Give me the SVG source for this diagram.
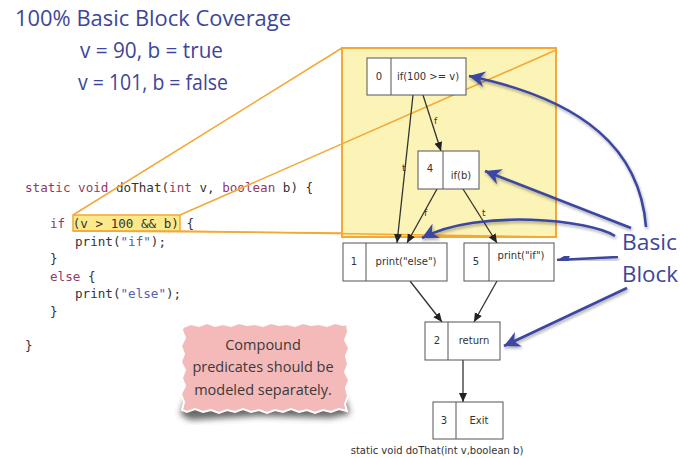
<svg xmlns="http://www.w3.org/2000/svg" width="680" height="458" viewBox="0 0 680 458">
<style>
.hand{font-family:"Open Sans","Liberation Sans",sans-serif;fill:#3d4699}
.code{font-family:"DejaVu Sans Mono","Liberation Mono",monospace;font-size:12.6px;fill:#333}
.kw{fill:#8e3b68}
.str{fill:#5560b0}
.nbox{fill:#fff;stroke:#555;stroke-width:1}
.nt{font-family:"DejaVu Sans","Liberation Sans",sans-serif;font-size:10px;fill:#333}
.edge{stroke:#333;stroke-width:1.3;fill:none;marker-end:url(#ah)}
.el{font-family:"DejaVu Sans","Liberation Sans",sans-serif;font-size:9px;fill:#333}
.blue{stroke:#3a46a0;stroke-width:2.6;fill:none;marker-end:url(#bh);filter:url(#bs)}
.orange{stroke:#f5a833;stroke-width:1.5;fill:none}
.note{font-family:"Open Sans","Liberation Sans",sans-serif;font-size:14.5px;fill:#3a3a3a;text-anchor:middle}
</style>
<defs>
<marker id="ah" markerWidth="10" markerHeight="10" refX="9" refY="4" orient="auto" markerUnits="userSpaceOnUse">
<path d="M0,0 L9,4 L0,8 z" fill="#222"/>
</marker>
<marker id="bh" markerWidth="18" markerHeight="16" refX="16" refY="8" orient="auto" markerUnits="userSpaceOnUse">
<path d="M0,0 L16,8 L0,16 L5,8 z" fill="#3a46a0"/>
</marker>
<filter id="bs" x="-20%" y="-20%" width="140%" height="140%">
<feGaussianBlur in="SourceAlpha" stdDeviation="1.5"/>
<feOffset dx="1" dy="2" result="b"/>
<feComponentTransfer><feFuncA type="linear" slope="0.35"/></feComponentTransfer>
<feMerge><feMergeNode/><feMergeNode in="SourceGraphic"/></feMerge>
</filter>
<filter id="ns" x="-10%" y="-10%" width="120%" height="130%">
<feGaussianBlur stdDeviation="3"/>
</filter>
</defs>
<rect width="680" height="458" fill="#fff"/>

<g id="title">
<text class="hand" x="15" y="26" font-size="21" textLength="276" lengthAdjust="spacingAndGlyphs">100% Basic Block Coverage</text>
<text class="hand" x="80" y="58" font-size="21" textLength="143" lengthAdjust="spacingAndGlyphs">v = 90, b = true</text>
<text class="hand" x="78" y="90" font-size="21" textLength="150" lengthAdjust="spacingAndGlyphs">v = 101, b = false</text>
</g>

<g id="yellow-region">
<rect x="342" y="48" width="214" height="189" fill="#fcf3b6" stroke="#f5a833" stroke-width="2"/>
</g>

<g id="code">
<rect x="73" y="215" width="107" height="16" fill="#fce98a" stroke="#f5a833" stroke-width="1.5"/>
<text class="code" x="25" y="192"><tspan class="kw">static void</tspan> doThat(<tspan class="kw">int</tspan> v, <tspan class="kw">boolean</tspan> b) {</text>
<text class="code" x="50" y="228"><tspan class="kw">if</tspan> (v &gt; 100 &amp;&amp; b) {</text>
<text class="code" x="75" y="246">print(<tspan class="str">"if"</tspan>);</text>
<text class="code" x="50" y="263">}</text>
<text class="code" x="50" y="281"><tspan class="kw">else</tspan> {</text>
<text class="code" x="75" y="298">print(<tspan class="str">"else"</tspan>);</text>
<text class="code" x="50" y="316">}</text>
<text class="code" x="25" y="350">}</text>
</g>

<g id="zoom-lines">
<line class="orange" x1="73" y1="215" x2="342" y2="48"/>
<line class="orange" x1="180" y1="215" x2="556" y2="50"/>
<line class="orange" x1="73" y1="231" x2="342" y2="233"/>
<line class="orange" x1="180" y1="231" x2="556" y2="237"/>
</g>

<g id="connectors">
<path class="edge" d="M413,95 L397,243"/>
<path class="edge" d="M423,95 L441,151"/>
<path class="edge" d="M437,189 L407,243"/>
<path class="edge" d="M463,189 L497,243"/>
<path class="edge" d="M410,281 L442,322"/>
<path class="edge" d="M497,281 L474,322"/>
<path class="edge" d="M463,360 L463,402"/>
<text class="el" x="402" y="171">t</text>
<text class="el" x="434" y="124">f</text>
<text class="el" x="424" y="216">f</text>
<text class="el" x="482" y="216">t</text>
</g>

<g id="node0">
<rect class="nbox" x="367" y="58" width="99" height="37"/>
<line x1="391" y1="58" x2="391" y2="95" stroke="#555"/>
<text class="nt" x="379" y="80" text-anchor="middle">0</text>
<text class="nt" x="428" y="80" text-anchor="middle">if(100 &gt;= v)</text>
</g>
<g id="node4">
<rect class="nbox" x="418" y="151" width="61" height="38"/>
<line x1="443" y1="151" x2="443" y2="189" stroke="#555"/>
<text class="nt" x="430" y="172" text-anchor="middle">4</text>
<text class="nt" x="461" y="179" text-anchor="middle">if(b)</text>
</g>
<g id="node1">
<rect class="nbox" x="343" y="243" width="104" height="38"/>
<line x1="366" y1="243" x2="366" y2="281" stroke="#555"/>
<text class="nt" x="354" y="265" text-anchor="middle">1</text>
<text class="nt" x="406" y="265" text-anchor="middle">print("else")</text>
</g>
<g id="node5">
<rect class="nbox" x="464" y="243" width="90" height="38"/>
<line x1="489" y1="243" x2="489" y2="281" stroke="#555"/>
<text class="nt" x="476" y="265" text-anchor="middle">5</text>
<text class="nt" x="521" y="259" text-anchor="middle">print("if")</text>
</g>
<g id="node2">
<rect class="nbox" x="425" y="322" width="75" height="38"/>
<line x1="448" y1="322" x2="448" y2="360" stroke="#555"/>
<text class="nt" x="437" y="344" text-anchor="middle">2</text>
<text class="nt" x="474" y="344" text-anchor="middle">return</text>
</g>
<g id="node3">
<rect class="nbox" x="433" y="402" width="70" height="37"/>
<line x1="456" y1="402" x2="456" y2="439" stroke="#555"/>
<text class="nt" x="444" y="424" text-anchor="middle">3</text>
<text class="nt" x="479" y="424" text-anchor="middle">Exit</text>
</g>
<g id="caption">
<text class="nt" x="437" y="454" text-anchor="middle" font-size="9">static void doThat(int v,boolean b)</text>
</g>

<g id="note">
<path d="M186,398 L345,398 L350,414 L330,418 L260,416 L190,420 L180,414 z" fill="#444" filter="url(#ns)" opacity="0.8"/>
<polygon fill="#f4b9b9" stroke="#fff" stroke-width="2" points="183,327 191,324 199,326 207,323 215,326 223,324 231,326 239,323 247,325 255,324 263,326 271,323 279,325 287,324 295,326 303,323 311,325 319,324 327,326 335,323 343,325 347,324 348,332 345,340 349,348 346,356 348,364 345,372 349,380 346,388 348,396 345,404 347,411 339,409 331,412 323,410 315,413 307,410 299,412 291,409 283,412 275,410 267,413 259,410 251,412 243,409 235,412 227,410 219,413 211,410 203,412 195,409 187,412 182,410 184,402 181,394 185,386 182,378 185,370 181,362 184,354 181,346 185,338 182,330"/>
<text class="note" x="263" y="350">Compound</text>
<text class="note" x="263" y="372">predicates should be</text>
<text class="note" x="263" y="395">modeled separately.</text>
</g>

<g id="basic-block">
<path class="blue" d="M646,227 C640,150 585,100 469,76"/>
<path class="blue" d="M631,228 L485,171"/>
<path class="blue" d="M615,236 C590,220 480,208 422,238"/>
<path class="blue" d="M618,257 L557,260"/>
<path class="blue" d="M627,288 L504,346"/>
<text class="hand" x="622" y="250" font-size="21" textLength="55" lengthAdjust="spacingAndGlyphs">Basic</text>
<text class="hand" x="622" y="282" font-size="21" textLength="56" lengthAdjust="spacingAndGlyphs">Block</text>
</g>
</svg>
